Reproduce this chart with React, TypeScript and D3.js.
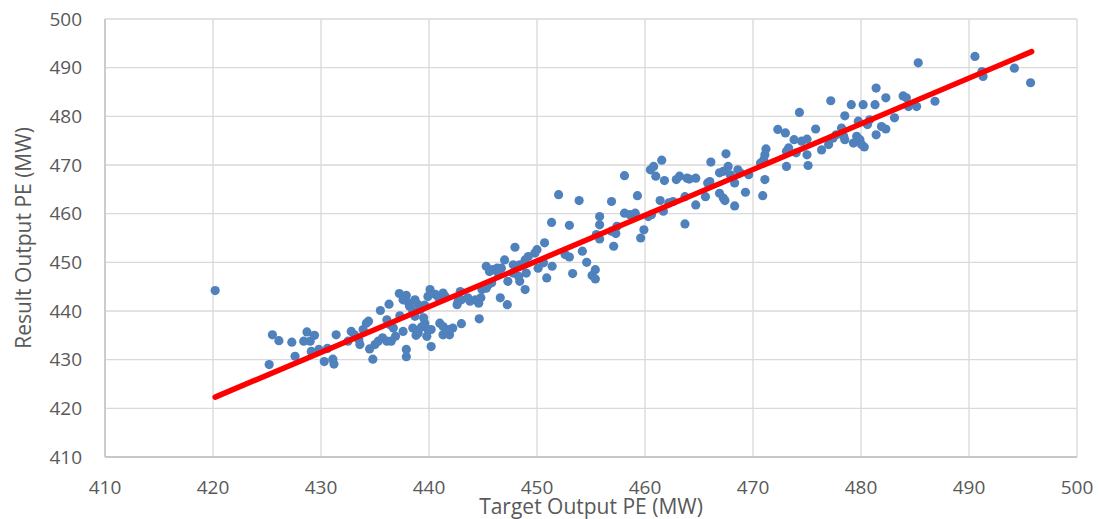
import React, { useEffect, useRef } from 'react'
import * as d3 from 'd3'

// target output (x) and result output (y)
const targetOutput = [
  420.2, 425.5, 426.1, 425.2, 427.3, 427.6, 428.7, 429.4, 428.4, 429.0,
  429.1, 429.8, 430.3, 431.1, 431.2, 430.6, 431.4, 432.5, 432.8, 433.1,
  433.5, 433.6, 433.9, 434.2, 434.4, 434.5, 434.8, 435.0, 435.3, 435.7,
  436.1, 436.5, 435.5, 436.3, 436.1, 436.4, 436.7, 437.6, 437.9, 437.9,
  437.25, 437.9, 438.1, 438.2, 438.7, 437.3, 438.7, 439.0, 440.1, 439.9,
  440.6, 440.9, 441.3, 441.5, 439.2, 439.5, 439.6, 439.9, 440.2, 439.8,
  440.2, 441.0, 441.3, 441.3, 441.8, 442.2, 443.0, 442.6, 442.7, 443.0,
  443.6, 443.8, 444.3, 444.6, 444.8, 442.9, 444.65, 444.9, 445.3, 445.5,
  445.8, 445.3, 445.6, 445.9, 446.3, 446.7, 446.4, 447.0, 446.6, 447.25,
  447.3, 447.8, 448.3, 448.4, 447.96, 447.8, 448.4, 448.9, 449.2, 449.0,
  448.9, 449.8, 450.0, 450.1, 450.6, 450.7, 450.9, 451.4, 452.0, 451.35,
  453.0, 452.6, 453.0, 453.3, 453.9, 454.2, 454.6, 455.4, 455.1, 455.4,
  455.8, 455.8, 455.5, 455.8, 456.9, 457.1, 456.9, 457.4, 457.3, 458.1,
  458.1, 458.6, 459.1, 459.3, 459.9, 459.6, 460.5, 460.8, 461.0, 461.55,
  461.8, 460.3, 460.6, 461.4, 461.7, 462.2, 462.6, 462.9, 463.2, 463.9,
  464.1, 464.7, 463.7, 463.7, 464.7, 465.8, 466.0, 466.1, 465.6, 466.9,
  467.25, 467.4, 466.9, 467.5, 467.25, 467.7, 467.9, 468.3, 468.6, 468.8,
  468.3, 469.3, 469.6, 473.1, 471.1, 470.9, 471.2, 471.1, 471.0, 470.7,
  472.3, 473.0, 473.8, 473.3, 473.1, 474.0, 474.3, 474.5, 475.0, 475.0,
  475.1, 475.8, 476.35, 477.0, 477.2, 477.4, 477.7, 478.2, 478.4, 478.5,
  478.5, 479.1, 479.3, 479.6, 479.9, 480.05, 480.3, 479.75, 480.2, 480.6,
  480.8, 481.3, 481.4, 481.4, 481.9, 482.3, 482.3, 483.1, 483.9, 484.2,
  484.4, 485.15, 485.3, 486.85, 490.55, 491.2, 491.3, 494.2, 495.7,
  436.9, 438.5, 438.8, 439.3, 441.9, 438.5, 439.0, 439.6, 437.6
]

const resultOutput = [
  444.2, 435.1, 433.9, 429.0, 433.6, 430.7, 435.7, 435.0, 433.8, 433.8,
  431.7, 432.1, 429.6, 430.1, 429.1, 432.3, 435.1, 433.8, 435.8, 435.1,
  434.1, 433.1, 436.2, 437.5, 437.9, 432.2, 430.1, 433.1, 433.8, 434.5,
  433.8, 433.8, 440.1, 441.4, 438.2, 437.2, 436.5, 435.8, 432.1, 430.6,
  443.6, 443.2, 441.7, 441.0, 442.3, 439.0, 438.9, 435.5, 444.4, 443.0,
  443.4, 442.7, 443.7, 443.0, 440.3, 438.6, 437.5, 436.2, 436.2, 434.8,
  432.7, 437.5, 436.8, 435.1, 436.2, 436.5, 437.4, 441.3, 442.0, 442.3,
  442.7, 442.0, 442.3, 441.6, 442.7, 444.0, 438.4, 444.4, 444.7, 445.4,
  445.8, 449.2, 448.1, 448.5, 448.8, 448.8, 447.8, 450.5, 442.7, 441.3,
  446.1, 447.8, 447.1, 446.1, 453.1, 449.5, 449.5, 450.5, 451.2, 447.8,
  444.4, 451.9, 452.6, 448.8, 449.9, 454.0, 446.8, 449.2, 463.9, 458.2,
  457.6, 451.6, 451.1, 447.7, 462.7, 452.3, 450.0, 448.5, 447.3, 446.6,
  459.4, 457.7, 455.7, 454.8, 462.5, 453.3, 456.4, 457.4, 455.9, 467.8,
  460.1, 459.8, 460.1, 463.7, 456.7, 455.0, 469.0, 469.7, 467.7, 471.0,
  466.8, 459.4, 459.8, 462.7, 460.5, 462.2, 462.5, 467.0, 467.7, 467.3,
  467.1, 467.3, 457.9, 463.5, 461.8, 466.3, 466.6, 470.6, 463.5, 464.2,
  463.2, 462.7, 468.4, 472.3, 468.7, 469.7, 468.0, 466.3, 469.0, 468.4,
  461.6, 464.4, 468.0, 469.7, 467.0, 463.7, 473.3, 472.1, 471.1, 470.4,
  477.3, 476.6, 475.2, 473.5, 472.8, 472.5, 480.8, 474.9, 475.3, 472.1,
  469.9, 477.4, 473.1, 474.2, 483.2, 475.5, 476.2, 477.6, 475.9, 475.2,
  480.1, 482.4, 474.5, 475.9, 475.2, 474.2, 473.7, 479.0, 482.4, 478.3,
  479.3, 482.4, 485.8, 476.2, 477.9, 477.4, 483.8, 479.7, 484.2, 483.8,
  482.0, 482.0, 491.0, 483.1, 492.3, 489.2, 488.2, 489.9, 486.9,
  434.8, 436.5, 435.0, 436.7, 435.1, 439.9, 441.3, 441.2, 442.3
]

// linear trendline end points
const trendX = [420.2, 495.8]
const trendY = [422.3, 493.3]

const xTicks = [410, 420, 430, 440, 450, 460, 470, 480, 490, 500]
const yTicks = [410, 420, 430, 440, 450, 460, 470, 480, 490, 500]

export default function App() {
  const svgRef = useRef<SVGSVGElement>(null)
  const width = 1099
  const height = 519

  useEffect(() => {
    if (!svgRef.current) return
    const svg = d3.select(svgRef.current)
    svg.selectAll('*').remove()

    const margin = { top: 19, right: 22, bottom: 62, left: 105 }
    const innerWidth = width - margin.left - margin.right
    const innerHeight = height - margin.top - margin.bottom
    const font = '"Open Sans", "Liberation Sans", sans-serif'
    const textColor = '#595959'

    const xScale = d3.scaleLinear().domain([410, 500]).range([0, innerWidth])
    const yScale = d3.scaleLinear().domain([410, 500]).range([innerHeight, 0])

    const g = svg.append('g').attr('transform', `translate(${margin.left},${margin.top})`)

    // grid
    g.append('g')
      .selectAll('line')
      .data(yTicks)
      .enter()
      .append('line')
      .attr('x1', 0)
      .attr('x2', innerWidth)
      .attr('y1', d => yScale(d))
      .attr('y2', d => yScale(d))
      .attr('stroke', '#d9d9d9')
      .attr('stroke-width', 1.3)

    g.append('g')
      .selectAll('line')
      .data(xTicks)
      .enter()
      .append('line')
      .attr('x1', d => xScale(d))
      .attr('x2', d => xScale(d))
      .attr('y1', 0)
      .attr('y2', innerHeight)
      .attr('stroke', '#d9d9d9')
      .attr('stroke-width', 1.3)

    // axis lines
    g.append('line')
      .attr('x1', 0).attr('x2', 0)
      .attr('y1', 0).attr('y2', innerHeight)
      .attr('stroke', '#bfbfbf')
      .attr('stroke-width', 1.3)
    g.append('line')
      .attr('x1', 0).attr('x2', innerWidth)
      .attr('y1', innerHeight).attr('y2', innerHeight)
      .attr('stroke', '#bfbfbf')
      .attr('stroke-width', 1.3)

    // tick labels
    g.append('g')
      .selectAll('text')
      .data(yTicks)
      .enter()
      .append('text')
      .attr('x', -23)
      .attr('y', d => yScale(d))
      .attr('dy', '0.35em')
      .attr('text-anchor', 'end')
      .attr('fill', textColor)
      .style('font-family', font)
      .style('font-size', '19px')
      .text(d => d)

    g.append('g')
      .selectAll('text')
      .data(xTicks)
      .enter()
      .append('text')
      .attr('x', d => xScale(d))
      .attr('y', innerHeight + 37)
      .attr('text-anchor', 'middle')
      .attr('fill', textColor)
      .style('font-family', font)
      .style('font-size', '19px')
      .text(d => d)

    // axis titles
    svg.append('text')
      .attr('x', margin.left + xScale(455))
      .attr('y', 514)
      .attr('text-anchor', 'middle')
      .attr('fill', textColor)
      .style('font-family', font)
      .style('font-size', '21px')
      .text('Target Output PE (MW)')

    svg.append('text')
      .attr('transform', `translate(31,${238}) rotate(-90)`)
      .attr('text-anchor', 'middle')
      .attr('fill', textColor)
      .style('font-family', font)
      .style('font-size', '21px')
      .text('Result Output PE (MW)')

    // points
    const points = targetOutput.map((x, i) => ({ x, y: resultOutput[i] }))
    g.append('g')
      .selectAll('circle')
      .data(points)
      .enter()
      .append('circle')
      .attr('cx', d => xScale(d.x))
      .attr('cy', d => yScale(d.y))
      .attr('r', 4.6)
      .attr('fill', '#4f81bd')

    // trendline
    const line = d3.line<number>()
      .x(d => xScale(trendX[d]))
      .y(d => yScale(trendY[d]))
    g.append('path')
      .datum([0, 1])
      .attr('fill', 'none')
      .attr('stroke', '#ff0000')
      .attr('stroke-width', 5.5)
      .attr('stroke-linecap', 'round')
      .attr('d', line)
  }, [])

  return (
    <svg
      ref={svgRef}
      width={width}
      height={height}
      style={{ position: 'fixed', left: 0, top: 0, background: '#fff' }}
    />
  )
}
